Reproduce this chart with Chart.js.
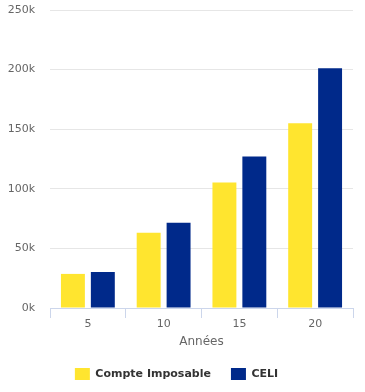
<!DOCTYPE html>
<html>
<head>
<meta charset="utf-8">
<script src="https://cdn.jsdelivr.net/npm/chart.js@4"></script>
<style>
  html, body { margin: 0; padding: 0; background: #fff; }
  #wrap { width: 365px; height: 392px; }
</style>
</head>
<body>
<div id="wrap"><canvas id="chart"></canvas></div>
<script>
const years = ['5', '10', '15', '20'];
const taxable = [28600, 63100, 105200, 154900];
const celi = [30300, 71500, 127100, 201200];
const yTicks = [0, 50000, 100000, 150000, 200000, 250000];

const font = 'DejaVu Sans, sans-serif';

new Chart(document.getElementById('chart').getContext('2d'), {
    type: 'bar',
    data: {
        labels: years,
        datasets: [
            { label: 'Compte Imposable', data: taxable, backgroundColor: '#ffe52f' },
            { label: 'CELI', data: celi, backgroundColor: '#00298a' }
        ]
    },
    options: {
        responsive: true,
        maintainAspectRatio: false,
        animation: false,
        categoryPercentage: 0.79,
        barPercentage: 0.8,
        layout: { padding: { top: 0, right: 12, left: 0, bottom: 2 } },
        plugins: {
            legend: {
                position: 'bottom',
                labels: {
                    boxWidth: 15,
                    boxHeight: 12,
                    padding: 20,
                    color: '#333',
                    font: { family: font, size: 11, weight: 'bold' }
                }
            },
            tooltip: { enabled: false }
        },
        scales: {
            x: {
                afterFit: axis => { axis.height = 40; },
                grid: {
                    display: true,
                    drawOnChartArea: false,
                    drawTicks: true,
                    tickLength: 10,
                    color: '#ccd6eb',
                    offset: true
                },
                border: { color: '#ccd6eb' },
                ticks: { color: '#666', font: { family: font, size: 11 }, padding: 0 },
                title: {
                    display: true,
                    text: 'Années',
                    color: '#666',
                    font: { family: font, size: 12 },
                    padding: { top: 0, bottom: -1 }
                }
            },
            y: {
                min: 0,
                max: 250000,
                afterFit: axis => {
                    axis.width = 50;
                    axis.paddingTop = 10;
                    axis.paddingBottom = 0;
                },
                afterBuildTicks: axis => { axis.ticks = yTicks.map(v => ({ value: v })); },
                grid: { color: '#e6e6e6', drawTicks: false },
                border: { display: false },
                ticks: {
                    color: '#666',
                    padding: 15,
                    font: { family: font, size: 11 },
                    callback: v => (v / 1000) + 'k'
                }
            }
        }
    }
});
</script>
</body>
</html>
